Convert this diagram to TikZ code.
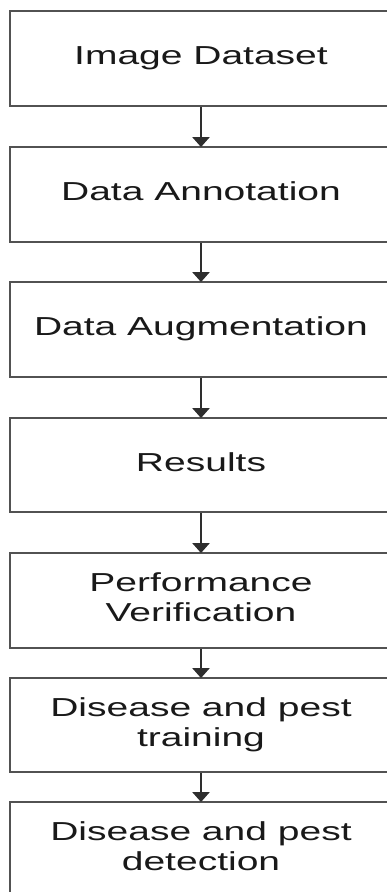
\documentclass[tikz,border=0pt]{standalone}
\usepackage{fontspec}
\usepackage{graphicx}
\setmainfont{Liberation Sans}
\usetikzlibrary{arrows.meta}

% wide, slightly raised label text for the stage boxes
\newcommand{\stagetext}[1]{\raisebox{3.3pt}{\scalebox{1.5}[1]{\begin{tabular}{@{}c@{}}#1\end{tabular}}}}

\tikzset{
  stagebox/.style={draw=black!68, line width=1.9pt, fill=white,
    minimum width=382pt, minimum height=95pt, inner sep=0pt,
    text=black!90, font=\fontsize{26}{30}\selectfont},
  flowarrow/.style={draw=black!82, line width=2.8pt,
    -{Triangle[width=17pt,length=10pt]}, shorten >=-1pt}
}

\begin{document}
\begin{tikzpicture}[x=1pt, y=-1pt]
  \useasboundingbox[fill=white] (0,0) rectangle (387,892);

  \node[stagebox] (b1) at (201,58.5) {\stagetext{Image Dataset}};
  \node[stagebox] (b2) at (201,194.5) {\stagetext{Data Annotation}};
  \node[stagebox] (b3) at (201,329.5) {\stagetext{Data Augmentation}};
  \node[stagebox, minimum height=94pt] (b4) at (201,465) {\stagetext{Results}};
  \node[stagebox] (b5) at (201,600.5) {\stagetext{Performance\\Verification}};
  \node[stagebox, minimum height=94pt] (b6) at (201,725) {\stagetext{Disease and pest\\training}};
  \node[stagebox] (b7) at (201,849.5) {\stagetext{Disease and pest\\detection}};

  \draw[flowarrow] (b1) -- (b2);
  \draw[flowarrow] (b2) -- (b3);
  \draw[flowarrow] (b3) -- (b4);
  \draw[flowarrow] (b4) -- (b5);
  \draw[flowarrow] (b5) -- (b6);
  \draw[flowarrow] (b6) -- (b7);
\end{tikzpicture}
\end{document}
